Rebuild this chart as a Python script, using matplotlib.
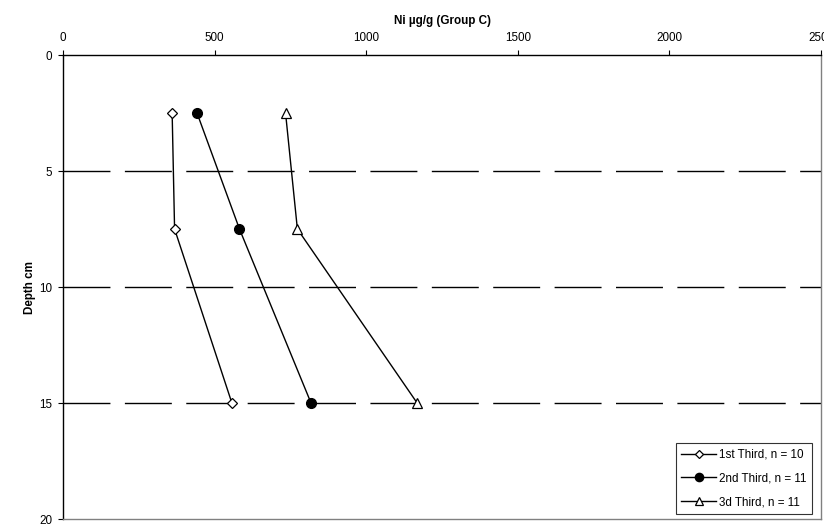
import matplotlib.pyplot as plt

plt.rcParams['font.family'] = ['Liberation Sans', 'DejaVu Sans']

depth = [2.5, 7.5, 15]
first_third = [360, 368, 557]
second_third = [442, 582, 818]
third_third = [734, 773, 1168]
labels = ['1st Third, n = 10', '2nd Third, n = 11', '3d Third, n = 11']

fs = 8.4
fig = plt.figure(figsize=(8.24, 5.25), dpi=100)
ax = fig.add_axes([63/824, 1 - 519/525, (821 - 63)/824, (519 - 55)/525])

# dashed depth gridlines
for d in [5, 10, 15]:
    ax.axhline(d, color='black', lw=1.0, dashes=(33.8, 10.4), zorder=1)

ax.plot(first_third, depth, color='black', lw=1, marker='D', ms=5,
        mfc='white', mec='black', mew=0.9, label=labels[0], zorder=3)
ax.plot(second_third, depth, color='black', lw=1, marker='o', ms=7,
        mfc='black', mec='black', label=labels[1], zorder=3)
ax.plot(third_third, depth, color='black', lw=1, marker='^', ms=7,
        mfc='white', mec='black', mew=0.9, label=labels[2], zorder=3)

ax.set_xlim(0, 2500)
ax.set_ylim(20, 0)
ax.set_xticks([0, 500, 1000, 1500, 2000, 2500])
ax.set_yticks([0, 5, 10, 15, 20])
ax.xaxis.tick_top()
ax.xaxis.set_label_position('top')
ax.tick_params(axis='both', direction='out', length=3.5, width=0.8,
               labelsize=fs, colors='black')
ax.tick_params(axis='x', pad=4.5)
ax.tick_params(axis='y', pad=4.3)
ax.set_xlabel('Ni µg/g (Group C)', fontsize=fs, fontweight='bold', labelpad=6)
ax.set_ylabel('Depth cm', fontsize=fs, fontweight='bold', labelpad=2.5)

for s in ['left', 'top']:
    ax.spines[s].set_color('black')
    ax.spines[s].set_linewidth(1.0)
for s in ['right', 'bottom']:
    ax.spines[s].set_color('#808080')
    ax.spines[s].set_linewidth(1.0)

leg = ax.legend(loc='lower right', bbox_to_anchor=(812/824, 1 - 514/525),
                bbox_transform=fig.transFigure, borderaxespad=0, fontsize=fs,
                frameon=True, fancybox=False, edgecolor='black',
                handlelength=3.0, handletextpad=0.2, borderpad=0.5,
                labelspacing=1.0, markerscale=0.85)
leg.get_frame().set_linewidth(0.8)

fig.savefig('out.png', dpi=100)
